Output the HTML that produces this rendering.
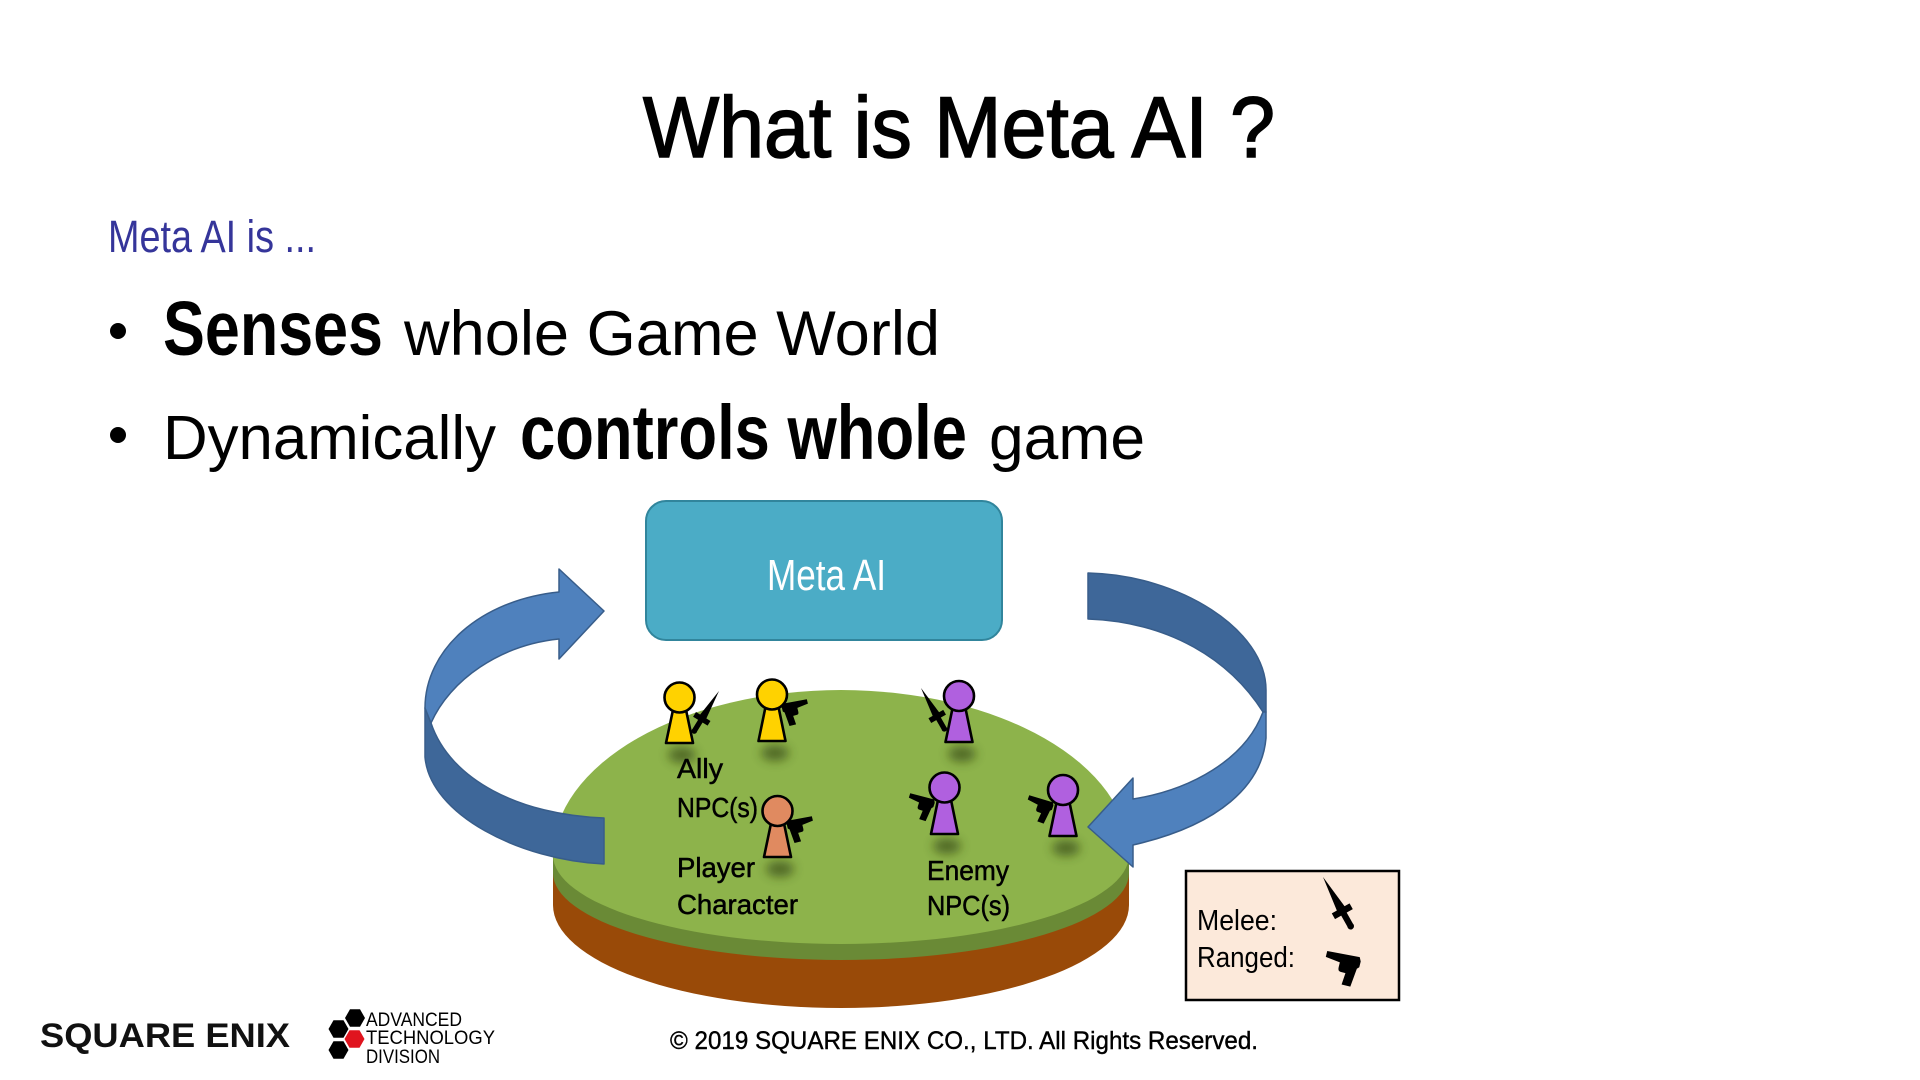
<!DOCTYPE html>
<html>
<head>
<meta charset="utf-8">
<style>
html,body{margin:0;padding:0;background:#fff;}
svg{display:block;}
text{font-family:"Liberation Sans",Arial,sans-serif;}
</style>
</head>
<body>
<svg width="1920" height="1080" viewBox="0 0 1920 1080" xmlns="http://www.w3.org/2000/svg">
<defs>
  <filter id="blur" x="-80%" y="-80%" width="260%" height="260%"><feGaussianBlur stdDeviation="5"/></filter>
  <g id="dagger">
    <path d="M0,0 L3.8,31 L-3.8,31 Z"/>
    <rect x="-8.5" y="30" width="17" height="5.5"/>
    <rect x="-2.6" y="35" width="5.2" height="11"/>
    <circle cx="0" cy="47" r="2.8"/>
  </g>
  <path id="gun" d="M0,-1 L33,-3 L35,1 L35,7 L33,9 L31,28 L22,28 L23,16 L18,16 Q15,16 15,12 L15,7 L0,5 Z"/>
</defs>

<rect width="1920" height="1080" fill="#fff"/>

<!-- Title -->
<text x="643" y="157" font-size="86" fill="#000" stroke="#000" stroke-width="1.6" textLength="632" lengthAdjust="spacingAndGlyphs">What is Meta AI ?</text>

<!-- Subtitle -->
<text x="108" y="252" font-size="45" fill="#35359a" textLength="208" lengthAdjust="spacingAndGlyphs">Meta AI is ...</text>

<!-- Bullets -->
<circle cx="118" cy="331" r="8" fill="#000"/>
<text x="163" y="355" font-size="77" font-weight="bold" fill="#000" textLength="220" lengthAdjust="spacingAndGlyphs">Senses</text>
<text x="404" y="355" font-size="63" fill="#000" textLength="536" lengthAdjust="spacingAndGlyphs">whole Game World</text>

<circle cx="118" cy="435" r="8" fill="#000"/>
<text x="163" y="459" font-size="62" fill="#000" textLength="333" lengthAdjust="spacingAndGlyphs">Dynamically</text>
<text x="520" y="459" font-size="77" font-weight="bold" fill="#000" textLength="447" lengthAdjust="spacingAndGlyphs">controls whole</text>
<text x="989" y="459" font-size="62" fill="#000" textLength="156" lengthAdjust="spacingAndGlyphs">game</text>

<!-- Meta AI box -->
<rect x="646" y="501" width="356" height="139" rx="20" ry="20" fill="#4bacc6" stroke="#31859c" stroke-width="2"/>
<text x="767" y="590" font-size="44" fill="#fff" textLength="119" lengthAdjust="spacingAndGlyphs">Meta AI</text>

<!-- Disk: brown side -->
<path d="M553,855 L553,905 A288,103 0 0 0 1129,905 L1129,855 Z" fill="#994a08"/>
<!-- dark green rim -->
<path d="M553,855 L553,873 A288,87 0 0 0 1129,873 L1129,855 Z" fill="#6a8a36"/>
<!-- top face -->
<path d="M553,855 A288,165 0 0 1 1129,855 A288,89 0 0 1 553,855 Z" fill="#8db34b"/>

<!-- Shadows under pawns -->
<g fill="#2a3a0c" opacity="0.6" filter="url(#blur)">
  <ellipse cx="682" cy="755" rx="14" ry="8"/>
  <ellipse cx="775" cy="753" rx="14" ry="8"/>
  <ellipse cx="962" cy="754" rx="14" ry="8"/>
  <ellipse cx="780" cy="869" rx="14" ry="8"/>
  <ellipse cx="947" cy="846" rx="14" ry="8"/>
  <ellipse cx="1066" cy="848" rx="14" ry="8"/>
</g>

<!-- Pawns -->
<g stroke="#000" stroke-width="2.6" stroke-linejoin="round">
  <polygon points="673.5,707.5 685.5,707.5 693,743 666,743" fill="#ffd200"/>
  <circle cx="679.5" cy="697.5" r="15" fill="#ffd200"/>
  <polygon points="766,704.5 778,704.5 785.5,741 758.5,741" fill="#ffd200"/>
  <circle cx="772" cy="694.5" r="15" fill="#ffd200"/>
  <polygon points="953,706 965,706 972.5,742 945.5,742" fill="#b060df"/>
  <circle cx="959" cy="696" r="15" fill="#b060df"/>
  <polygon points="771.5,821 783.5,821 791,857 764,857" fill="#e08a60"/>
  <circle cx="777.5" cy="811" r="15" fill="#e08a60"/>
  <polygon points="938.5,797.5 950.5,797.5 958,834 931,834" fill="#b060df"/>
  <circle cx="944.5" cy="787.5" r="15" fill="#b060df"/>
  <polygon points="1057,800 1069,800 1076.5,836 1049.5,836" fill="#b060df"/>
  <circle cx="1063" cy="790" r="15" fill="#b060df"/>
</g>

<!-- Weapons -->
<g fill="#000">
  <use href="#dagger" transform="translate(719,691) rotate(31.7)"/>
  <use href="#dagger" transform="translate(921,688) rotate(-29.7)"/>
  <use href="#gun" transform="translate(807,700) rotate(-14) scale(-0.75,0.75)"/>
  <use href="#gun" transform="translate(812,817) rotate(-14) scale(-0.75,0.75)"/>
  <use href="#gun" transform="translate(910,794) rotate(18) scale(0.75)"/>
  <use href="#gun" transform="translate(1029,796) rotate(20) scale(0.75)"/>
</g>

<!-- Disk labels -->
<g font-size="28" fill="#000" stroke="#000" stroke-width="0.5">
  <text x="677" y="778" textLength="46" lengthAdjust="spacingAndGlyphs">Ally</text>
  <text x="677" y="817" textLength="81" lengthAdjust="spacingAndGlyphs">NPC(s)</text>
  <text x="677" y="877" textLength="78" lengthAdjust="spacingAndGlyphs">Player</text>
  <text x="677" y="914" textLength="121" lengthAdjust="spacingAndGlyphs">Character</text>
  <text x="927" y="880" textLength="82" lengthAdjust="spacingAndGlyphs">Enemy</text>
  <text x="927" y="915" textLength="83" lengthAdjust="spacingAndGlyphs">NPC(s)</text>
</g>

<!-- Left arrow -->
<g stroke="#385d8a" stroke-width="1.5" stroke-linejoin="round">
  <path d="M425,708 L425,757 C430,815 520,860 604,864 L604,818 C520,815 450,780 431,723 Z" fill="#3e6799"/>
  <path d="M559,592 C480,600 425,650 425,708 L431,723 C450,680 500,645 559,639 L559,659 L604,611 L559,569 Z" fill="#4f81bd"/>
</g>

<!-- Right arrow -->
<g stroke="#385d8a" stroke-width="1.5" stroke-linejoin="round">
  <path d="M1088,573 C1180,575 1266,630 1266,690 L1266,712 L1263,712 C1230,660 1170,622 1088,619 Z" fill="#3e6799"/>
  <path d="M1266,712 L1266,738 C1262,785 1220,825 1133,845 L1133,867 L1088,827 L1133,778 L1133,799 C1190,790 1245,760 1263,712 Z" fill="#4f81bd"/>
</g>

<!-- Legend -->
<rect x="1186" y="871" width="213" height="129" fill="#fce9da" stroke="#000" stroke-width="2.5"/>
<text x="1197" y="930" font-size="29" fill="#000" textLength="80" lengthAdjust="spacingAndGlyphs">Melee:</text>
<text x="1197" y="967" font-size="29" fill="#000" textLength="98" lengthAdjust="spacingAndGlyphs">Ranged:</text>
<g fill="#000">
  <use href="#dagger" transform="translate(1323,877) rotate(-29.4) scale(1.2)"/>
  <use href="#gun" transform="translate(1327,952) rotate(14) scale(1)"/>
</g>

<!-- Footer: SQUARE ENIX logo -->
<text x="40" y="1047" font-size="34" font-weight="bold" fill="#111" textLength="250" lengthAdjust="spacingAndGlyphs">SQUARE ENIX</text>

<!-- ATD logo hexagons (flat-top) -->
<g>
  <polygon points="365,1018 360,1009.3 350,1009.3 345,1018 350,1026.7 360,1026.7" fill="#000"/>
  <polygon points="348.5,1029 343.5,1020.3 333.5,1020.3 328.5,1029 333.5,1037.7 343.5,1037.7" fill="#000"/>
  <polygon points="364.5,1039 359.5,1030.3 349.5,1030.3 344.5,1039 349.5,1047.7 359.5,1047.7" fill="#e0141e"/>
  <polygon points="348.5,1050 343.5,1041.3 333.5,1041.3 328.5,1050 333.5,1058.7 343.5,1058.7" fill="#000"/>
</g>
<g font-size="19" fill="#000">
  <text x="366" y="1026" textLength="96" lengthAdjust="spacingAndGlyphs">ADVANCED</text>
  <text x="366" y="1044" textLength="129" lengthAdjust="spacingAndGlyphs">TECHNOLOGY</text>
  <text x="366" y="1063" textLength="74" lengthAdjust="spacingAndGlyphs">DIVISION</text>
</g>

<!-- Copyright -->
<text x="670" y="1049" font-size="25" fill="#000" stroke="#000" stroke-width="0.4" textLength="588" lengthAdjust="spacingAndGlyphs">© 2019 SQUARE ENIX CO., LTD. All Rights Reserved.</text>
</svg>
</body>
</html>
